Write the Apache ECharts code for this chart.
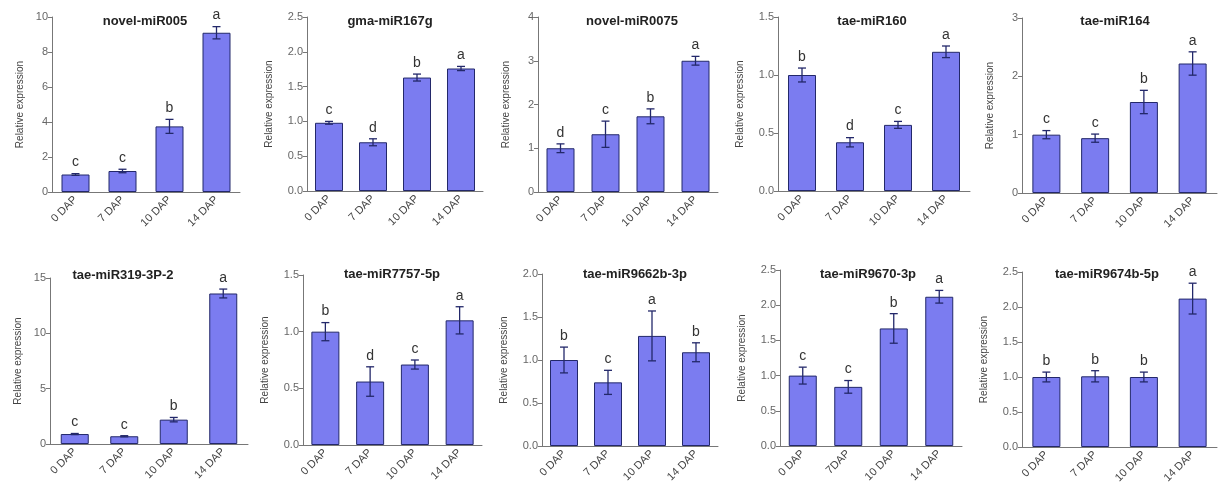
<!DOCTYPE html>
<html>
<head>
<meta charset="utf-8">
<script src="https://cdn.jsdelivr.net/npm/echarts@6/dist/echarts.min.js"></script>
<style>
  html, body { margin: 0; padding: 0; background: #fff; }
  #chart { width: 1227px; height: 495px; }
</style>
</head>
<body>
<div id="chart"></div>
<script>
// data
const titles = ['novel-miR005', 'gma-miR167g', 'novel-miR0075', 'tae-miR160', 'tae-miR164',
  'tae-miR319-3P-2', 'tae-miR7757-5p', 'tae-miR9662b-3p', 'tae-miR9670-3p', 'tae-miR9674b-5p']
const categories = ['0 DAP', '7 DAP', '10 DAP', '14 DAP']
const categories9 = ['0 DAP', '7DAP', '10 DAP', '14 DAP']
const means = [
  [1.0, 1.2, 3.75, 9.1],
  [0.98, 0.7, 1.63, 1.76],
  [1.0, 1.32, 1.73, 3.0],
  [1.0, 0.42, 0.57, 1.2],
  [1.0, 0.94, 1.56, 2.22],
  [0.9, 0.7, 2.2, 13.6],
  [1.0, 0.56, 0.71, 1.1],
  [1.0, 0.74, 1.28, 1.09],
  [1.0, 0.84, 1.67, 2.12],
  [1.0, 1.01, 1.0, 2.12]
]
const errors = [
  [0.05, 0.1, 0.4, 0.35],
  [0.02, 0.05, 0.05, 0.03],
  [0.1, 0.3, 0.17, 0.1],
  [0.06, 0.04, 0.03, 0.05],
  [0.07, 0.07, 0.2, 0.2],
  [0.05, 0.05, 0.2, 0.4],
  [0.08, 0.13, 0.04, 0.12],
  [0.15, 0.14, 0.29, 0.11],
  [0.12, 0.09, 0.21, 0.09],
  [0.07, 0.08, 0.07, 0.22]
]
const letters = [
  ['c', 'c', 'b', 'a'],
  ['c', 'd', 'b', 'a'],
  ['d', 'c', 'b', 'a'],
  ['b', 'd', 'c', 'a'],
  ['c', 'c', 'b', 'a'],
  ['c', 'c', 'b', 'a'],
  ['b', 'd', 'c', 'a'],
  ['b', 'c', 'a', 'b'],
  ['c', 'c', 'b', 'a'],
  ['b', 'b', 'b', 'a']
]
const yMax = [10, 2.5, 4, 1.5, 3, 15, 1.5, 2.0, 2.5, 2.5]
const yInterval = [2, 0.5, 1, 0.5, 1, 5, 0.5, 0.5, 0.5, 0.5]
const yDecimals = [0, 1, 0, 1, 0, 0, 1, 1, 1, 1]

// layout: [axisLeft, axisRight, top, zero]
const boxes = [
  [52, 240, 17, 192], [307, 483, 17, 191], [538, 718, 17, 192], [778, 970, 17, 191], [1022, 1217, 18, 193],
  [50, 248, 278, 444], [303, 482, 275, 445], [542, 718, 274, 446], [780, 962, 270, 446], [1022, 1217, 272, 447]
]
const titlePos = [[140, 10], [385, 10], [627, 10], [867, 10], [1110, 10],
  [118, 264], [387, 263], [630, 263], [863, 263], [1102, 263]]

const barColor = '#7b7cf0'
const darkBlue = '#23286a'
const axisColor = '#777'

const grid = [], xAxis = [], yAxis = [], series = [], title = []
titles.forEach((t, i) => {
  const b = boxes[i]
  grid.push({ left: b[0], top: b[2], width: b[1] - b[0], height: b[3] - b[2] })
  title.push({
    text: t, left: titlePos[i][0], top: titlePos[i][1], textAlign: 'center',
    textStyle: { fontSize: 13, fontWeight: 'bold', color: '#222', fontFamily: 'Liberation Sans' }
  })
  xAxis.push({
    type: 'category', gridIndex: i, data: i === 8 ? categories9 : categories,
    axisLine: { lineStyle: { color: axisColor, width: 1 } },
    axisTick: { alignWithLabel: true, length: 5, lineStyle: { color: '#444' } },
    axisLabel: { rotate: 45, fontSize: 11, color: '#444', margin: 6, fontFamily: 'Liberation Sans' }
  })
  yAxis.push({
    type: 'value', gridIndex: i, min: 0, max: yMax[i], interval: yInterval[i],
    name: 'Relative expression', nameLocation: 'middle', nameGap: yDecimals[i] ? 33 : 27,
    nameTextStyle: { fontSize: 10, color: '#444', fontFamily: 'Liberation Sans' },
    axisLine: { show: true, lineStyle: { color: axisColor } },
    axisTick: { show: true, length: 4, lineStyle: { color: axisColor } },
    splitLine: { show: false },
    axisLabel: {
      fontSize: 11, color: '#666', margin: 4, fontFamily: 'Liberation Sans',
      formatter: v => v.toFixed(yDecimals[i])
    }
  })
  series.push({
    type: 'bar', xAxisIndex: i, yAxisIndex: i, data: means[i], barWidth: 28,
    itemStyle: { color: barColor, borderColor: darkBlue, borderWidth: 1 }
  })
  series.push({
    type: 'custom', xAxisIndex: i, yAxisIndex: i,
    data: means[i].map((m, k) => [k, m, errors[i][k], letters[i][k]]),
    z: 5,
    renderItem: (params, api) => {
      const x = api.value(0), m = api.value(1), e = api.value(2)
      const top = api.coord([x, m + e]), bot = api.coord([x, m - e])
      const cx = top[0], cap = 4
      const style = { stroke: darkBlue, lineWidth: 1.3 }
      return {
        type: 'group',
        children: [
          { type: 'line', shape: { x1: cx, y1: top[1], x2: cx, y2: bot[1] }, style },
          { type: 'line', shape: { x1: cx - cap, y1: top[1], x2: cx + cap, y2: top[1] }, style },
          { type: 'line', shape: { x1: cx - cap, y1: bot[1], x2: cx + cap, y2: bot[1] }, style },
          {
            type: 'text', x: cx, y: top[1] - 4,
            style: {
              text: letters[i][params.dataIndex], align: 'center', verticalAlign: 'bottom',
              fontSize: 14, fill: '#333', fontFamily: 'Liberation Sans'
            }
          }
        ]
      }
    }
  })
})

const myChart = echarts.init(document.getElementById('chart'))
myChart.setOption({ animation: false, title, grid, xAxis, yAxis, series })
</script>
</body>
</html>
